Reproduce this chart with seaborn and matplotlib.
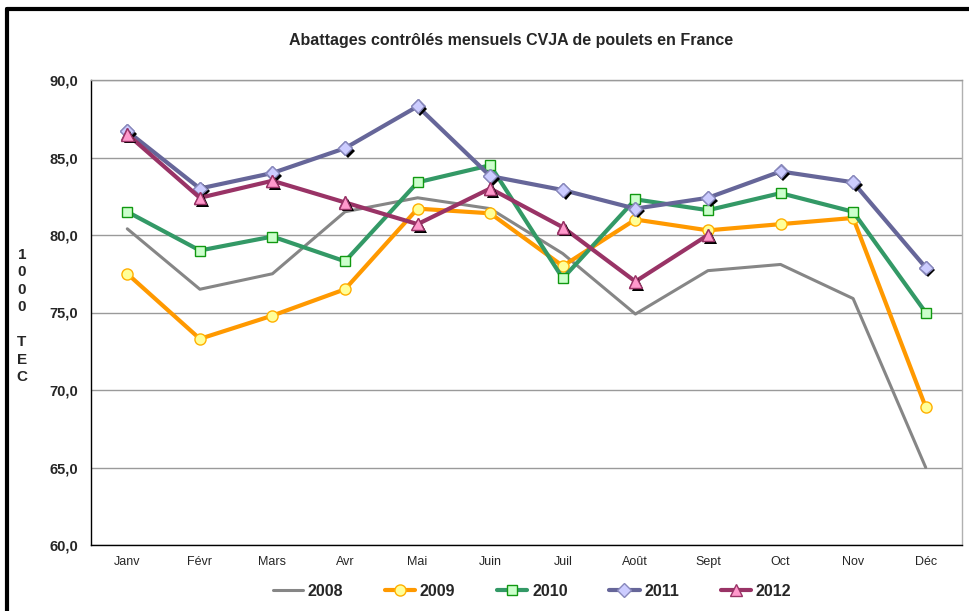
import numpy as np
import pandas as pd
import matplotlib
matplotlib.use("Agg")
import matplotlib.pyplot as plt
import matplotlib.patheffects as pe
from matplotlib.lines import Line2D
from matplotlib.ticker import FuncFormatter, FixedLocator
import seaborn as sns

# ============================================================
# Data (1000 TEC)
# ============================================================
months = ["Janv", "Févr", "Mars", "Avr", "Mai", "Juin", "Juil", "Août", "Sept", "Oct", "Nov", "Déc"]
v2008 = [80.4, 76.5, 77.5, 81.5, 82.4, 81.7, 78.8, 74.9, 77.7, 78.1, 75.9, 65.0]
v2009 = [77.5, 73.3, 74.8, 76.5, 81.7, 81.4, 78.0, 81.0, 80.3, 80.7, 81.1, 68.9]
v2010 = [81.5, 79.0, 79.9, 78.3, 83.4, 84.5, 77.2, 82.3, 81.6, 82.7, 81.5, 75.0]
v2011 = [86.7, 83.0, 84.0, 85.6, 88.3, 83.8, 82.9, 81.7, 82.4, 84.1, 83.4, 77.9]
v2012 = [86.5, 82.4, 83.5, 82.1, 80.7, 83.0, 80.5, 77.0, 80.0]
years = ["2008", "2009", "2010", "2011", "2012"]

series = {"2008": v2008, "2009": v2009, "2010": v2010, "2011": v2011, "2012": v2012}

# style per series
styles = {
    "2008": dict(color="#868686", lw=2.2, marker=None),
    "2009": dict(color="#FF9900", lw=3, marker="o", mfc="#FFFF99", mec="#FFB000", ms=8, shadow=False),
    "2010": dict(color="#339966", lw=3, marker="s", mfc="#CCFFCC", mec="#119911", ms=7, shadow=False),
    "2011": dict(color="#666699", lw=3, marker="D", mfc="#CCCCFF", mec="#8888BB", ms=7, shadow=True),
    "2012": dict(color="#993366", lw=3, marker="^", mfc="#FF99CC", mec="#993366", ms=9, shadow=True),
}


def main():
    sns.set_style("white")
    plt.rcParams["font.family"] = ["Liberation Sans", "DejaVu Sans"]

    fig = plt.figure(figsize=(9.70, 6.11), dpi=100)
    ax = fig.add_axes([91 / 970, 1 - 545 / 611, (962 - 91) / 970, (545 - 80) / 611])

    for yr in years:
        vals = series[yr]
        df = pd.DataFrame({"x": np.arange(len(vals)), "y": vals})
        st = styles[yr]
        kw = dict(color=st["color"], linewidth=st["lw"])
        if st["marker"]:
            kw.update(marker=st["marker"], markerfacecolor=st["mfc"],
                      markeredgecolor=st["mec"], markersize=st["ms"], markeredgewidth=1)
        sns.lineplot(data=df, x="x", y="y", ax=ax, label=yr, **kw)
        if st.get("shadow"):
            ax.plot(df["x"], df["y"], linestyle="none", marker=st["marker"],
                    markerfacecolor=st["mfc"], markeredgecolor=st["mec"],
                    markersize=st["ms"], markeredgewidth=1,
                    path_effects=[pe.SimplePatchShadow(offset=(2, -2), shadow_rgbFace="black", alpha=1),
                                  pe.Normal()])

    # axes
    ax.set_xlim(-0.5, len(months) - 0.5)
    ax.set_ylim(60, 90)
    ax.set_yticks(np.arange(60, 91, 5))
    ax.yaxis.set_major_formatter(FuncFormatter(lambda v, p: f"{v:.1f}".replace(".", ",")))
    ax.set_xticks(np.arange(len(months)))
    ax.set_xticklabels(months, fontsize=9)
    ax.xaxis.set_minor_locator(FixedLocator(np.arange(-0.5, len(months), 1)))
    ax.tick_params(axis="x", which="major", length=0, pad=8)
    ax.tick_params(axis="x", which="minor", length=4, width=1, color="black", direction="out")
    ax.tick_params(axis="y", length=5, width=1, color="black", direction="out", labelsize=10.5, pad=4)
    for lab in ax.get_yticklabels():
        lab.set_fontweight("bold")
    ax.yaxis.grid(True, color="#9A9A9A", lw=1)
    ax.set_axisbelow(True)
    ax.set_xlabel("")
    ax.set_ylabel("")

    ax.spines["left"].set_color("black")
    ax.spines["bottom"].set_color("black")
    ax.spines["top"].set_color("#9A9A9A")
    ax.spines["right"].set_color("#B0B0B0")
    for s in ax.spines.values():
        s.set_linewidth(1)

    fig.text(511 / 970, 1 - 40 / 611, "Abattages contrôlés mensuels CVJA de poulets en France",
             ha="center", va="center", fontsize=11.5, fontweight="bold")

    fig.text(22 / 970, 1 - 316 / 611, "1\n0\n0\n0\n\nT\nE\nC", ha="center", va="center",
             fontsize=11, fontweight="bold", linespacing=1.32)

    # legend
    handles, labels = ax.get_legend_handles_labels()
    leg = fig.legend(handles[:5], labels[:5], loc="center", bbox_to_anchor=(532 / 970, 1 - 591 / 611),
                     ncol=5, frameon=False, handlelength=1.9, columnspacing=2.6, handletextpad=0.3,
                     prop={"weight": "bold", "size": 11.5})
    if ax.get_legend():
        ax.get_legend().remove()

    # outer frame
    fig.add_artist(Line2D([7 / 970, 7 / 970], [0, 1 - 9 / 611], color="black", lw=3, transform=fig.transFigure))
    fig.add_artist(Line2D([7 / 970, 1], [1 - 9 / 611, 1 - 9 / 611], color="black", lw=3, transform=fig.transFigure))

    fig.savefig("out.png", dpi=100)
    plt.close(fig)


if __name__ == "__main__":
    main()
